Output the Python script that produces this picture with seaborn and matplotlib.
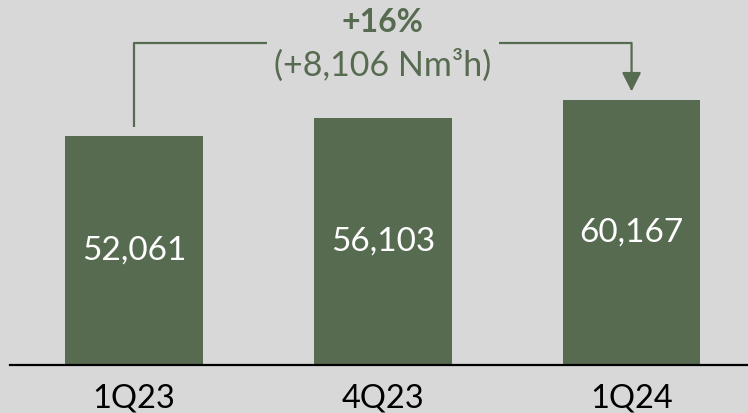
import pandas as pd
import matplotlib.pyplot as plt
import seaborn as sns

# Chart data
quarters = ["1Q23", "4Q23", "1Q24"]
capacity = [52061, 56103, 60167]
growth_pct = "+16%"
growth_abs = "(+8,106 Nm³h)"

green = "#576b50"
bg = "#d8d8d8"

sns.set_style("white", {"axes.facecolor": bg, "figure.facecolor": bg})
plt.rcParams["font.family"] = ["Lato", "DejaVu Sans"]

df = pd.DataFrame({"quarter": quarters, "capacity": capacity})

fig = plt.figure(figsize=(7.48, 4.13), dpi=100)
ax = fig.add_axes([10 / 748, 48 / 413, 738 / 748, 365 / 413])

sns.barplot(data=df, x="quarter", y="capacity", color=green, saturation=1,
            width=0.553, edgecolor=green, linewidth=0, ax=ax)

ax.bar_label(ax.containers[0], labels=[f"{v:,}" for v in capacity],
             label_type="center", color="white", fontsize=24)

ax.set_xlim(-0.4985, 2.468)
ax.set_ylim(0, 82960)
ax.set_xlabel("")
ax.set_ylabel("")
ax.set_yticks([])
ax.tick_params(axis="x", length=0, pad=13, labelsize=23.5, labelcolor="black")

for side in ["top", "right", "left"]:
    ax.spines[side].set_visible(False)
ax.spines["bottom"].set_color("black")
ax.spines["bottom"].set_linewidth(1.6)

# growth bracket from first to last bar
top_y = 73200
gap = 2000
ax.plot([0, 0, 0.535], [capacity[0] + gap, top_y, top_y], color=green, lw=1.6,
        solid_capstyle="butt")
ax.annotate("", xy=(2, capacity[-1] + gap), xytext=(2, top_y),
            arrowprops=dict(arrowstyle="-|>,head_length=1.15,head_width=0.58",
                            color=green, lw=1.6, shrinkA=0, shrinkB=0,
                            mutation_scale=10))
ax.plot([1.467, 2], [top_y, top_y], color=green, lw=1.6, solid_capstyle="butt")

ax.text(1.0, 77900, growth_pct, ha="center", va="center", fontsize=23,
        fontweight="bold", color=green)
ax.text(1.0, 68200, growth_abs, ha="center", va="center", fontsize=24.5,
        color=green)

fig.savefig("out.png", dpi=100, facecolor=bg)
